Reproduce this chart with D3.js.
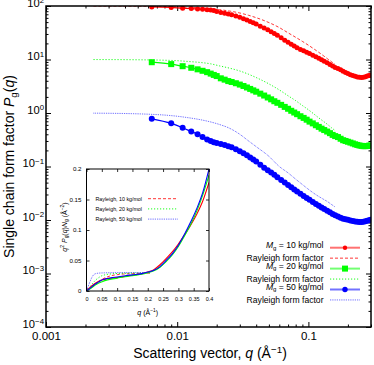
<!DOCTYPE html>
<html>
<head>
<meta charset="utf-8">
<script src="https://cdn.jsdelivr.net/npm/d3@7"></script>
<style>
  body { margin: 0; background: #fff; }
  svg { display: block; font-family: "Liberation Sans", Arial, sans-serif; }
</style>
</head>
<body>
<div id="chart"></div>
<script>
// measured single chain form factors (main panel)
var qData = [0.0064, 0.0090, 0.0110, 0.0128, 0.0143, 0.0156, 0.0169, 0.0180, 0.0190, 0.0200,
  0.0215, 0.0230, 0.0245, 0.0260, 0.0280, 0.0300, 0.0320, 0.0340, 0.0360, 0.0380,
  0.0400, 0.0430, 0.0460, 0.0490, 0.0520, 0.0550, 0.0580, 0.0620, 0.0660, 0.0700,
  0.0740, 0.0780, 0.0820, 0.0870, 0.0920, 0.0970, 0.1020, 0.1080, 0.1140, 0.1200,
  0.1260, 0.1320, 0.1390, 0.1460, 0.1530, 0.1600, 0.1680, 0.1760, 0.1840, 0.1920,
  0.2000, 0.2090, 0.2180, 0.2270, 0.2360, 0.2450, 0.2540, 0.2630, 0.2720, 0.2810,
  0.2900, 0.2980];
var pg10 = [96, 94, 91, 89.5, 88, 87, 85.5, 84, 82.5, 79,
  76, 73.5, 71, 68.5, 65, 61.5, 58, 55, 51.5, 48.5,
  46, 42, 39, 36, 33, 30.5, 28.5, 25.5, 23, 21,
  19.2, 17.8, 16.5, 15.3, 14.6, 13.7, 12.9, 12, 11.2, 10.5,
  9.9, 9.3, 8.7, 8.1, 7.6, 7.1, 6.8, 6.4, 6.0, 5.7,
  5.45, 5.2, 5.0, 4.85, 4.72, 4.65, 4.62, 4.65, 4.75, 4.9,
  5.0, 5.1];
var pg20 = [8.9, 8.2, 7.5, 7.0, 6.55, 6.15, 5.8, 5.45, 5.15, 4.9,
  4.45, 4.2, 3.95, 3.8, 3.6, 3.4, 3.2, 3.0, 2.82, 2.65,
  2.5, 2.3, 2.12, 1.95, 1.8, 1.66, 1.55, 1.42, 1.3, 1.2,
  1.1, 1.02, 0.95, 0.87, 0.81, 0.75, 0.69, 0.64, 0.59, 0.55,
  0.51, 0.48, 0.45, 0.42, 0.39, 0.37, 0.355, 0.33, 0.31, 0.30,
  0.29, 0.28, 0.27, 0.26, 0.253, 0.247, 0.243, 0.24, 0.24, 0.242,
  0.245, 0.248];
var pg50 = [0.78, 0.64, 0.53, 0.45, 0.40, 0.355, 0.32, 0.30, 0.285, 0.275,
  0.263, 0.252, 0.24, 0.228, 0.21, 0.193, 0.177, 0.162, 0.148, 0.135,
  0.124, 0.108, 0.095, 0.085, 0.077, 0.070, 0.063, 0.056, 0.050, 0.045,
  0.041, 0.037, 0.034, 0.031, 0.028, 0.0258, 0.0238, 0.0218, 0.0200, 0.0185,
  0.0172, 0.016, 0.0149, 0.0139, 0.013, 0.0123, 0.0116, 0.011, 0.0106, 0.0103,
  0.0101, 0.0098, 0.0096, 0.0094, 0.0093, 0.0092, 0.0092, 0.0093, 0.0095, 0.0097,
  0.0099, 0.0101];

// rayleigh form factor curves (main panel)
var qRay = [0.0023, 0.003, 0.004, 0.005, 0.006, 0.008, 0.010, 0.012, 0.015, 0.018,
  0.021, 0.025, 0.030, 0.035, 0.040, 0.050, 0.060, 0.070, 0.080, 0.090,
  0.100, 0.110, 0.120, 0.130, 0.140, 0.150, 0.160];
var ray10 = [99.8, 99.7, 99.4, 99.1, 98.7, 97.7, 96.4, 94.9, 92.1, 89,
  85.5, 80.5, 74, 67, 60.5, 49, 39.5, 31.5, 26, 21.8,
  18.5, 15.8, 13.6, 11.8, 10.3, 9.1, 8.1];
var ray20 = [9.98, 9.96, 9.93, 9.88, 9.83, 9.7, 9.5, 9.2, 8.8, 8.3,
  7.6, 6.9, 6.1, 5.3, 4.6, 3.5, 2.7, 2.1, 1.7, 1.38,
  1.15, 0.96, 0.81, 0.70, 0.61, 0.53, 0.47];
var ray50 = [0.993, 0.988, 0.978, 0.965, 0.95, 0.915, 0.87, 0.82, 0.75, 0.68,
  0.61, 0.52, 0.40, 0.30, 0.235, 0.155, 0.10, 0.076, 0.058, 0.046,
  0.0375, 0.0316, 0.0275, 0.0245, 0.022, 0.0195, 0.0175];

// inset: q^2 P(q) N
var qInset = [0, 0.01, 0.02, 0.03, 0.04, 0.05, 0.06, 0.08, 0.10, 0.12,
  0.14, 0.16, 0.18, 0.20, 0.22, 0.24, 0.26, 0.28, 0.30, 0.32,
  0.34, 0.36, 0.38, 0.40];
var kr10 = [0, 0.005, 0.0095, 0.013, 0.016, 0.018, 0.0195, 0.021, 0.022, 0.0235,
  0.025, 0.0265, 0.028, 0.031, 0.035, 0.043, 0.053, 0.064, 0.077, 0.092,
  0.108, 0.126, 0.148, 0.178];
var kr20 = [0, 0.003, 0.0065, 0.010, 0.013, 0.015, 0.017, 0.0195, 0.021, 0.023,
  0.0245, 0.026, 0.0275, 0.030, 0.033, 0.039, 0.048, 0.059, 0.073, 0.090,
  0.109, 0.131, 0.158, 0.190];
var kr50 = [0, 0.004, 0.008, 0.012, 0.015, 0.018, 0.0195, 0.0215, 0.023, 0.0245,
  0.026, 0.027, 0.0285, 0.031, 0.034, 0.040, 0.050, 0.061, 0.075, 0.093,
  0.113, 0.135, 0.162, 0.200];
var qInsetRay = [0, 0.01, 0.02, 0.03, 0.04, 0.05, 0.06, 0.08, 0.10, 0.12, 0.15, 0.18, 0.21];
var krRay10 = [0, 0.003, 0.007, 0.011, 0.0155, 0.019, 0.0215, 0.025, 0.0268, 0.0278, 0.0285, 0.029, 0.0293];
var krRay20 = [0, 0.006, 0.0125, 0.018, 0.022, 0.025, 0.0265, 0.028, 0.0287, 0.029, 0.0293, 0.0295, 0.0296];
var krRay50 = [0, 0.0135, 0.0245, 0.0285, 0.0293, 0.0296, 0.0298, 0.030, 0.0301, 0.0302, 0.0302, 0.0302, 0.0302];

// tick labels
var xTicks = [0.001, 0.01, 0.1];
var xTickLabels = ["0.001", "0.01", "0.1"];
var yTicks = [1e-4, 1e-3, 1e-2, 1e-1, 1, 10, 100];
var yTickExp = ["\u22124", "\u22123", "\u22122", "\u22121", "0", "1", "2"];
var insetXTicks = [0, 0.05, 0.1, 0.15, 0.2, 0.25, 0.3, 0.35, 0.4];
var insetXLabels = ["0", "0.05", "0.1", "0.15", "0.2", "0.25", "0.3", "0.35", "0.4"];
var insetYTicks = [0, 0.05, 0.1, 0.15, 0.2];
var insetYLabels = ["0", "0.05", "0.1", "0.15", "0.2"];
var legendMasses = ["10", "20", "50"];
var insetLegend = ["Rayleigh, 10 kg/mol", "Rayleigh, 20 kg/mol", "Rayleigh, 50 kg/mol"];

var red = "#ff0000", green = "#00ff00", blue = "#0000ff";

// text with italic / sub / superscript pieces
function rich(sel, parts, size, supShift) {
    var prev = 0;
    parts.forEach(function(p) {
        var shift = p.s == "sup" ? -(supShift || 0.36) * size : (p.s == "sub" ? 0.22 * size : 0);
        sel.append("tspan")
            .attr("dy", shift - prev)
            .style("font-size", (p.s ? size * 0.7 : size) + "px")
            .style("font-style", p.i ? "italic" : "normal")
            .text(p.t);
        prev = shift;
    });
}

var W = 374, H = 365;
var margin = { top: 6, right: 3, bottom: 38, left: 46 },
    width = W - margin.left - margin.right,
    height = H - margin.top - margin.bottom;

var svg = d3.select("#chart").append("svg")
    .attr("width", W)
    .attr("height", H);

var g = svg.append("g")
    .attr("transform", "translate(" + margin.left + "," + margin.top + ")");

var x = d3.scaleLog().domain([0.001, 0.3]).range([0, width]);
var y = d3.scaleLog().domain([1e-4, 100]).range([height, 0]);

svg.append("clipPath").attr("id", "plotclip")
    .append("rect").attr("width", width).attr("height", height);

// minor ticks 2..9 of every decade
var xMinor = x.ticks().filter(function(d) { return xTicks.indexOf(d) < 0; });
var yMinor = y.ticks().filter(function(d) { return yTicks.indexOf(d) < 0; });

function axisStyle(sel) {
    sel.select(".domain").remove();
    sel.selectAll(".tick line").attr("stroke", "#000").attr("stroke-width", 1);
}

g.append("g").attr("transform", "translate(0," + height + ")")
    .call(d3.axisBottom(x).tickValues(xTicks).tickSize(-5).tickPadding(5)
        .tickFormat(function(d, i) { return xTickLabels[i]; }))
    .call(axisStyle)
    .selectAll("text").style("font-size", "11.5px").attr("fill", "#000");
g.append("g").attr("transform", "translate(0," + height + ")")
    .call(d3.axisBottom(x).tickValues(xMinor).tickSize(-2.5).tickFormat(""))
    .call(axisStyle);
g.append("g")
    .call(d3.axisTop(x).tickValues(xTicks).tickSize(-5).tickFormat(""))
    .call(axisStyle);
g.append("g")
    .call(d3.axisTop(x).tickValues(xMinor).tickSize(-2.5).tickFormat(""))
    .call(axisStyle);

var yAx = g.append("g")
    .call(d3.axisLeft(y).tickValues(yTicks).tickSize(-5).tickFormat(""))
    .call(axisStyle);
yAx.selectAll(".tick").each(function(d, i) {
    var t = d3.select(this).append("text")
        .attr("x", -2)
        .attr("dy", "0.4em")
        .attr("fill", "#000")
        .style("text-anchor", "end");
    rich(t, [{ t: "10" }, { t: yTickExp[i], s: "sup" }], 11.2, 0.3);
});
g.append("g")
    .call(d3.axisLeft(y).tickValues(yMinor).tickSize(-2.5).tickFormat(""))
    .call(axisStyle);
g.append("g").attr("transform", "translate(" + width + ",0)")
    .call(d3.axisRight(y).tickValues(yTicks).tickSize(-5).tickFormat(""))
    .call(axisStyle);
g.append("g").attr("transform", "translate(" + width + ",0)")
    .call(d3.axisRight(y).tickValues(yMinor).tickSize(-2.5).tickFormat(""))
    .call(axisStyle);

// curves
var plot = g.append("g").attr("clip-path", "url(#plotclip)");

var line = d3.line()
    .x(function(d) { return x(d[0]); })
    .y(function(d) { return y(d[1]); })
    .curve(d3.curveMonotoneX);

var rays = [
    { v: ray10, c: red, dash: "3,2", w: 0.8 },
    { v: ray20, c: green, dash: "1.2,1.8", w: 0.9 },
    { v: ray50, c: blue, dash: "0.8,1", w: 0.7 }
];
rays.forEach(function(r) {
    plot.append("path")
        .datum(qRay.map(function(q, i) { return [q, r.v[i]]; }))
        .attr("d", line)
        .attr("fill", "none")
        .attr("stroke", r.c)
        .attr("stroke-width", r.w)
        .attr("stroke-dasharray", r.dash);
});

var series = [
    { v: pg10, c: red, shape: "circle", r: 2.5 },
    { v: pg20, c: green, shape: "square", r: 3.0 },
    { v: pg50, c: blue, shape: "circle", r: 3.0 }
];
series.forEach(function(s) {
    var pts = qData.map(function(q, i) { return [q, s.v[i]]; });
    plot.append("path")
        .datum(pts)
        .attr("d", line)
        .attr("fill", "none")
        .attr("stroke", s.c)
        .attr("stroke-width", 1.3);
    if (s.shape == "circle") {
        plot.selectAll(null).data(pts).enter().append("circle")
            .attr("cx", function(d) { return x(d[0]); })
            .attr("cy", function(d) { return y(d[1]); })
            .attr("r", s.r)
            .attr("fill", s.c);
    } else {
        plot.selectAll(null).data(pts).enter().append("rect")
            .attr("x", function(d) { return x(d[0]) - s.r; })
            .attr("y", function(d) { return y(d[1]) - s.r; })
            .attr("width", 2 * s.r)
            .attr("height", 2 * s.r)
            .attr("fill", s.c);
    }
});

// frame
g.append("rect")
    .attr("width", width).attr("height", height)
    .attr("fill", "none").attr("stroke", "#000").attr("stroke-width", 1.5);

// axis titles
var xt = svg.append("text")
    .attr("x", 210).attr("y", 358)
    .style("text-anchor", "middle").attr("fill", "#000");
rich(xt, [{ t: "Scattering vector, " }, { t: "q", i: 1 }, { t: " (\u00c5" }, { t: "\u22121", s: "sup" }, { t: ")" }], 14);

var yt = svg.append("text")
    .attr("transform", "translate(14," + (margin.top + height / 2) + ") rotate(-90)")
    .style("text-anchor", "middle").attr("fill", "#000");
rich(yt, [{ t: "Single chain form factor " }, { t: "P", i: 1 }, { t: "g", s: "sub" }, { t: "(" }, { t: "q", i: 1 }, { t: ")" }], 14);

// legend
var legX = 323.5, legY = 247.7, legStep = 10.45;
var leg = svg.append("g");
series.forEach(function(s, k) {
    var yy = legY + 2 * k * legStep;
    var t1 = leg.append("text").attr("x", legX).attr("y", yy).attr("dy", "0.35em")
        .style("text-anchor", "end").attr("fill", "#000");
    rich(t1, [{ t: "M", i: 1 }, { t: "g", s: "sub" }, { t: " = " + legendMasses[k] + " kg/mol" }], 8.6);
    leg.append("line").attr("x1", 330).attr("x2", 360).attr("y1", yy).attr("y2", yy)
        .attr("stroke", s.c).attr("stroke-width", 2).attr("opacity", 0.55);
    if (s.shape == "circle") {
        leg.append("circle").attr("cx", 345).attr("cy", yy).attr("r", s.r - 0.3).attr("fill", s.c);
    } else {
        leg.append("rect").attr("x", 345 - s.r).attr("y", yy - s.r)
            .attr("width", 2 * s.r).attr("height", 2 * s.r).attr("fill", s.c);
    }
    var yy2 = yy + legStep;
    leg.append("text").attr("x", legX).attr("y", yy2).attr("dy", "0.35em")
        .style("text-anchor", "end").attr("fill", "#000").style("font-size", "8.6px")
        .text("Rayleigh form factor");
    leg.append("line").attr("x1", 330).attr("x2", 360).attr("y1", yy2).attr("y2", yy2)
        .attr("stroke", rays[k].c).attr("stroke-width", rays[k].w)
        .attr("stroke-dasharray", rays[k].dash);
});

// inset
var ix0 = 86.5, ix1 = 209, iy0 = 169, iy1 = 291;
var xi = d3.scaleLinear().domain([0, 0.4]).range([0, ix1 - ix0]);
var yi = d3.scaleLinear().domain([0, 0.2]).range([iy1 - iy0, 0]);
var ins = svg.append("g").attr("transform", "translate(" + ix0 + "," + iy0 + ")");
var iw = ix1 - ix0, ih = iy1 - iy0;

ins.append("rect").attr("width", iw).attr("height", ih).attr("fill", "#fff");
svg.append("clipPath").attr("id", "insetclip")
    .append("rect").attr("width", iw).attr("height", ih);

function insetAxis(sel) {
    sel.select(".domain").remove();
    sel.selectAll(".tick line").attr("stroke", "#000").attr("stroke-width", 0.8);
    sel.selectAll("text").attr("fill", "#000");
}
ins.append("g").attr("transform", "translate(0," + ih + ")")
    .call(d3.axisBottom(xi).tickValues(insetXTicks).tickSize(-3).tickPadding(6)
        .tickFormat(function(d, i) { return insetXLabels[i]; }))
    .call(insetAxis)
    .selectAll("text").style("font-size", "5.5px");
ins.append("g")
    .call(d3.axisTop(xi).tickValues(insetXTicks).tickSize(-3).tickFormat(""))
    .call(insetAxis);
ins.append("g")
    .call(d3.axisLeft(yi).tickValues(insetYTicks).tickSize(-3).tickPadding(5)
        .tickFormat(function(d, i) { return insetYLabels[i]; }))
    .call(insetAxis)
    .selectAll("text").style("font-size", "6.2px");
ins.append("g").attr("transform", "translate(" + iw + ",0)")
    .call(d3.axisRight(yi).tickValues(insetYTicks).tickSize(-3).tickFormat(""))
    .call(insetAxis);

var iplot = ins.append("g").attr("clip-path", "url(#insetclip)");
var iline = d3.line()
    .x(function(d) { return xi(d[0]); })
    .y(function(d) { return yi(d[1]); })
    .curve(d3.curveMonotoneX);

[krRay10, krRay20, krRay50].forEach(function(v, k) {
    iplot.append("path")
        .datum(qInsetRay.map(function(q, i) { return [q, v[i]]; }))
        .attr("d", iline)
        .attr("fill", "none")
        .attr("stroke", rays[k].c)
        .attr("stroke-width", rays[k].w)
        .attr("stroke-dasharray", rays[k].dash);
});
[kr10, kr20, kr50].forEach(function(v, k) {
    iplot.append("path")
        .datum(qInset.map(function(q, i) { return [q, v[i]]; }))
        .attr("d", iline)
        .attr("fill", "none")
        .attr("stroke", series[k].c)
        .attr("stroke-width", 1.1);
});

ins.append("rect").attr("width", iw).attr("height", ih)
    .attr("fill", "none").attr("stroke", "#000").attr("stroke-width", 1);

// inset legend
insetLegend.forEach(function(lbl, k) {
    var yy = 198.7 + k * 10.2 - iy0;
    ins.append("text").attr("x", 142 - ix0).attr("y", yy).attr("dy", "0.35em")
        .style("text-anchor", "end").style("font-size", "5.3px").attr("fill", "#000")
        .text(lbl);
    ins.append("line").attr("x1", 148 - ix0).attr("x2", 178 - ix0).attr("y1", yy).attr("y2", yy)
        .attr("stroke", rays[k].c).attr("stroke-width", rays[k].w)
        .attr("stroke-dasharray", rays[k].dash);
});

// inset axis titles
var ixt = svg.append("text").attr("x", (ix0 + ix1) / 2).attr("y", 315)
    .style("text-anchor", "middle").attr("fill", "#000");
rich(ixt, [{ t: "q", i: 1 }, { t: " (\u00c5" }, { t: "\u22121", s: "sup" }, { t: ")" }], 7);

var iyt = svg.append("text")
    .attr("transform", "translate(66.5," + ((iy0 + iy1) / 2 - 3) + ") rotate(-90)")
    .style("text-anchor", "middle").attr("fill", "#000");
rich(iyt, [{ t: "q", i: 1 }, { t: "2", s: "sup" }, { t: " P", i: 1 }, { t: "g", s: "sub" }, { t: "(" },
    { t: "q", i: 1 }, { t: ")" }, { t: "N", i: 1 }, { t: "g", s: "sub" }, { t: " (\u00c5" },
    { t: "\u22122", s: "sup" }, { t: ")" }], 7);
</script>
</body>
</html>
